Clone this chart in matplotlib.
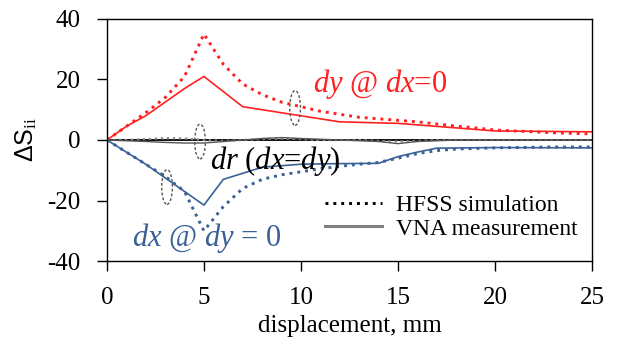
import matplotlib
matplotlib.use("Agg")
import matplotlib.pyplot as plt
from matplotlib.patches import Ellipse
from matplotlib.lines import Line2D

plt.rcParams['font.family'] = ['Liberation Serif', 'DejaVu Serif']
plt.rcParams['mathtext.fontset'] = 'custom'
plt.rcParams['mathtext.rm'] = 'Liberation Serif'
plt.rcParams['mathtext.it'] = 'Liberation Serif:italic'
plt.rcParams['axes.unicode_minus'] = False

# ---- data ----
x_sim = [0, 1, 2, 3, 4, 5, 6, 7, 8, 9, 10, 11, 12, 13, 14, 15, 16, 17, 18, 19, 20, 21, 22, 23, 24, 25]
dy_sim = [0, 4.5, 9, 14, 21, 35, 25, 18.5, 15, 12.5, 11, 9.5, 8.5, 7.5, 7, 6.5, 6, 5.3, 4.6, 4, 3.3, 3, 2.7, 2.4, 2.2, 2]
dx_sim = [0, -4, -8, -12, -17, -30, -22, -16, -13, -11.5, -10.5, -9.5, -8.7, -8, -7.4, -6, -4.5, -3.5, -3, -2.8, -2.6, -2.5, -2.4, -2.3, -2.3, -2.3]
dr_sim = [0, 0, 0.3, 0.6, 0.5, 0, -0.3, 0, 0.3, 0.5, 0.3, 0, 0, 0, -0.3, -0.5, -0.3, 0, 0, 0, 0, 0, 0, 0, 0, 0]

x_dy_meas = [0, 1, 2, 3, 4, 5, 7, 10, 12, 15, 17, 20, 25]
dy_meas = [0, 4.5, 8, 12.5, 17, 21, 11, 8, 6, 5.5, 4.5, 3, 2.7]

x_dx_meas = [0, 1, 2, 3, 4, 5, 6, 8, 10, 12, 14, 15, 16, 17, 20, 25]
dx_meas = [0, -4, -8, -12.5, -17, -21.5, -13, -9, -8, -7.8, -7.7, -5.5, -4, -2.7, -2.5, -2.6]

x_dr_meas = [0, 2, 3, 4, 5, 6, 7, 8, 9, 10, 12, 14, 15, 16, 18, 20, 25]
dr_meas = [0, -0.5, -0.8, -1, -1, -0.5, 0, 0.5, 0.8, 0.5, 0, -0.5, -1.2, -0.5, 0, 0, 0]

xticks = [0, 5, 10, 15, 20, 25]
yticks = [-40, -20, 0, 20, 40]

RED = '#FF2020'
BLUE = '#3A6096'
DOT = (0, (1, 1.7))

fig = plt.figure(figsize=(6.29, 3.5), dpi=100)
ax = fig.add_axes([0.170, 0.254, 0.771, 0.692])

ax.axhline(0, color='black', lw=1.3, zorder=1)

ax.plot(x_sim, dy_sim, color=RED, ls=DOT, lw=2.1)
ax.plot(x_dy_meas, dy_meas, color=RED, lw=1.2)
ax.plot(x_sim, dx_sim, color=BLUE, ls=DOT, lw=2.1)
ax.plot(x_dx_meas, dx_meas, color=BLUE, lw=1.2)
ax.plot(x_sim, dr_sim, color='#888888', ls=DOT, lw=1.6)
ax.plot(x_dr_meas, dr_meas, color='#555555', lw=1.0)

for (cx, cy) in [(4.8, -0.5), (9.7, 10.6), (3.1, -15.5)]:
    ax.add_patch(Ellipse((cx, cy), 0.55, 11.5, fill=False, ec='#555555',
                         ls=(0, (2, 1.5)), lw=1.0, zorder=5))

ax.text(10.6, 16.0, r'$\mathit{dy}$ @ $\mathit{dx}$=0', color=RED, fontsize=22)
ax.text(5.3, -9.5, r'$\mathit{dr}$ ($\mathit{dx}$=$\mathit{dy}$)', color='black', fontsize=22)
ax.text(1.3, -35.0, r'$\mathit{dx}$ @ $\mathit{dy}$ = 0', color=BLUE, fontsize=22)

handles = [Line2D([], [], color='black', ls=DOT, lw=2.1),
           Line2D([], [], color='#808080', lw=2.2)]
ax.legend(handles, ['HFSS simulation', 'VNA measurement'], loc='lower right',
          bbox_to_anchor=(1.0, 0.03), frameon=False, fontsize=17,
          handlelength=2.4, handletextpad=0.6, labelspacing=0.1, borderaxespad=0.2)

ax.set_xlim(0, 25)
ax.set_ylim(-40, 40)
ax.set_xticks(xticks)
ax.set_yticks(yticks)
ax.tick_params(direction='out', length=7, width=1, labelsize=18, colors='black')
ax.tick_params(axis='x', pad=12)
ax.tick_params(axis='y', pad=12)
for s in ax.spines.values():
    s.set_linewidth(1.0)

ax.set_xlabel('displacement, mm', fontsize=18, labelpad=4)
ax.set_ylabel(r'ΔS$_{\rm ii}$', fontsize=18, family=['Liberation Sans', 'DejaVu Sans'], labelpad=6)

fig.savefig('out.png', dpi=100)
